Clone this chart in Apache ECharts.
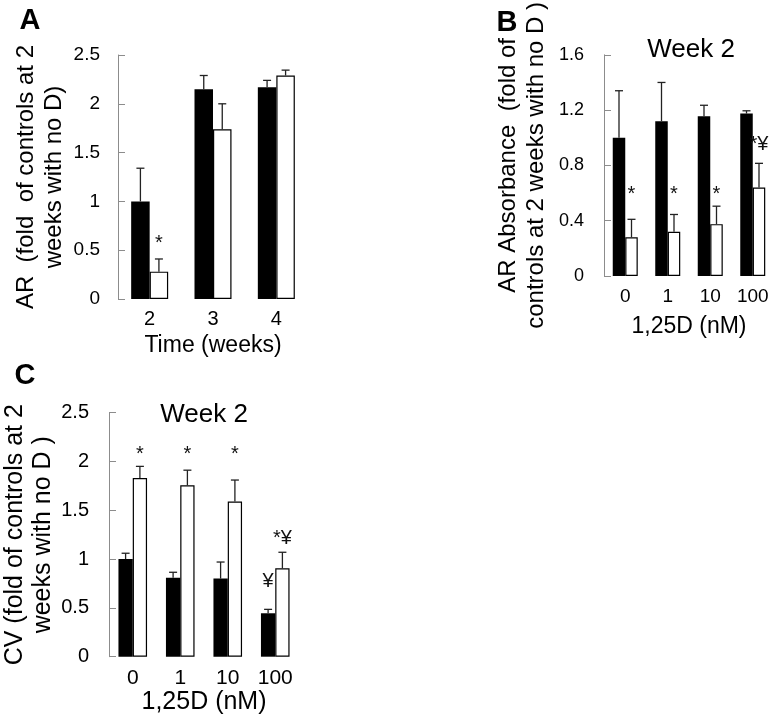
<!DOCTYPE html>
<html>
<head>
<meta charset="utf-8">
<script src="https://cdn.jsdelivr.net/npm/echarts@6/dist/echarts.min.js"></script>
<style>
html,body{margin:0;padding:0;background:#fff;}
#chart{width:777px;height:718px;}
</style>
</head>
<body>
<div id="chart"></div>
<script>
// ---------- DATA ----------
// Panel A
const catsA = ['2', '3', '4'];
const blackA = [1.00, 2.15, 2.17];
const blackErrA = [0.34, 0.14, 0.07];
const whiteA = [0.28, 1.74, 2.29];
const whiteErrA = [0.13, 0.26, 0.055];
// annotations: [category index, bar (0 black / 1 white), value, text]
const annoA = [[0, 1, 0.57, '*']];

// Panel B
const catsB = ['0', '1', '10', '100'];
const blackB = [1.00, 1.12, 1.155, 1.175];
const blackErrB = [0.34, 0.28, 0.08, 0.02];
const whiteB = [0.28, 0.32, 0.375, 0.64];
const whiteErrB = [0.13, 0.125, 0.13, 0.175];
const annoB = [[0, 1, 0.59, '*'], [1, 1, 0.59, '*'], [2, 1, 0.59, '*'], [3, 1, 0.95, '*¥']];

// Panel C
const catsC = ['0', '1', '10', '100'];
const blackC = [1.00, 0.81, 0.80, 0.445];
const blackErrC = [0.06, 0.055, 0.17, 0.04];
const whiteC = [1.83, 1.756, 1.59, 0.905];
const whiteErrC = [0.12, 0.155, 0.22, 0.165];
const annoC = [[0, 1, 2.07, '*'], [1, 1, 2.07, '*'], [2, 1, 2.07, '*'], [3, 1, 1.21, '*¥'], [3, 0, 0.77, '¥']];

// ---------- LAYOUT / STYLE ----------
const FONT = '"Liberation Sans", Arial, sans-serif';
const panels = [
  {cats: catsA, black: blackA, bErr: blackErrA, white: whiteA, wErr: whiteErrA, anno: annoA,
   grid: {left: 118, top: 55, width: 190, height: 244}, max: 2.5, interval: 0.5, barW: 18.5,
   yName: 'AR  (fold  of controls at 2\nweeks with no D)', xName: 'Time (weeks)',
   xNameGap: 35, yNameGap: 50, xLabelMargin: 10, tickFont: 19, xLabFont: 20, xNameFont: 23, yNameFont: 24, yLabMargin: 18},
  {cats: catsB, black: blackB, bErr: blackErrB, white: whiteB, wErr: whiteErrB, anno: annoB,
   grid: {left: 604, top: 42, width: 170, height: 234}, max: 1.6, interval: 0.4, barW: 12.5,
   yName: 'AR Absorbance  (fold of\ncontrols at 2 weeks with no D )', xName: '1,25D (nM)',
   xNameGap: 39, yNameGap: 54, xLabelMargin: 11, tickFont: 18, xLabFont: 19, xNameFont: 23, yNameFont: 24, yLabMargin: 20},
  {cats: catsC, black: blackC, bErr: blackErrC, white: whiteC, wErr: whiteErrC, anno: annoC,
   grid: {left: 106, top: 412.7, width: 193, height: 244}, max: 2.5, interval: 0.5, barW: 14.3,
   yName: 'CV (fold of controls at 2\nweeks with no D )', xName: '1,25D (nM)',
   xNameGap: 33, yNameGap: 52, xLabelMargin: 11, tickFont: 20, xLabFont: 21, xNameFont: 25, yNameFont: 25, yLabMargin: 20}
];

const grids = [], xAxes = [], yAxes = [], series = [];
panels.forEach((p, i) => {
  grids.push(Object.assign({containLabel: false}, p.grid));
  xAxes.push({
    gridIndex: i, type: 'category', data: p.cats,
    axisLine: {show: false}, axisTick: {show: false},
    axisLabel: {fontSize: p.xLabFont, color: '#000', fontFamily: FONT, margin: p.xLabelMargin},
    name: p.xName, nameLocation: 'middle', nameGap: p.xNameGap,
    nameTextStyle: {fontSize: p.xNameFont, color: '#000', fontFamily: FONT}
  });
  yAxes.push({
    gridIndex: i, type: 'value', min: 0, max: p.max, interval: p.interval,
    axisLine: {show: true, lineStyle: {color: '#8c8c8c', width: 1}},
    axisTick: {show: true, inside: true, length: 7, lineStyle: {color: '#8c8c8c', width: 1}},
    splitLine: {show: false},
    axisLabel: {fontSize: p.tickFont, color: '#000', fontFamily: FONT, margin: p.yLabMargin},
    name: p.yName, nameLocation: 'middle', nameGap: p.yNameGap,
    nameTextStyle: {fontSize: p.yNameFont, lineHeight: 28, color: '#000', fontFamily: FONT, align: 'center'}
  });
  series.push({
    type: 'bar', xAxisIndex: i, yAxisIndex: i, data: p.black, barWidth: p.barW, barGap: '0%',
    itemStyle: {color: '#000'}, silent: true
  });
  series.push({
    type: 'bar', xAxisIndex: i, yAxisIndex: i, data: p.white, barWidth: p.barW, barGap: '0%',
    itemStyle: {color: '#fff', borderColor: '#000', borderWidth: 1.2}, silent: true
  });
  const errData = [];
  p.black.forEach((v, k) => errData.push([k, v, p.bErr[k], 0]));
  p.white.forEach((v, k) => errData.push([k, v, p.wErr[k], 1]));
  series.push({
    type: 'custom', xAxisIndex: i, yAxisIndex: i, data: errData, silent: true, clip: false,
    encode: {x: 0, y: 1}, z: 3,
    renderItem: function (params, api) {
      const k = api.value(0), v = api.value(1), e = api.value(2), side = api.value(3);
      const base = api.coord([k, v]);
      const top = api.coord([k, v + e]);
      const x = base[0] + (side === 0 ? -p.barW / 2 : p.barW / 2);
      const cap = 4;
      const st = {stroke: '#222', lineWidth: 1.3};
      return {type: 'group', children: [
        {type: 'line', shape: {x1: x, y1: base[1], x2: x, y2: top[1]}, style: st},
        {type: 'line', shape: {x1: x - cap, y1: top[1], x2: x + cap, y2: top[1]}, style: st}
      ]};
    }
  });
  series.push({
    type: 'custom', xAxisIndex: i, yAxisIndex: i, data: p.anno.map(a => [a[0], a[2], a[1]]),
    silent: true, clip: false, encode: {x: 0, y: 1}, z: 4,
    renderItem: function (params, api) {
      const a = p.anno[params.dataIndex];
      const c = api.coord([a[0], a[2]]);
      const x = c[0] + (a[1] === 0 ? -p.barW / 2 : p.barW / 2);
      return {type: 'text', x: x, y: c[1], style: {
        text: a[3], fill: '#111', font: '20px ' + FONT,
        align: 'center', verticalAlign: 'middle', textAlign: 'center', textVerticalAlign: 'middle'
      }};
    }
  });
});

function txt(x, y, s, size, bold) {
  return {type: 'text', x: x, y: y, silent: true, style: {
    text: s, fill: '#000', font: (bold ? 'bold ' : '') + size + 'px ' + FONT,
    align: 'center', verticalAlign: 'middle', textAlign: 'center', textVerticalAlign: 'middle'
  }};
}

const chart = echarts.init(document.getElementById('chart'), null, {renderer: 'canvas'});
chart.setOption({
  animation: false,
  backgroundColor: '#fff',
  grid: grids, xAxis: xAxes, yAxis: yAxes, series: series,
  graphic: [
    txt(30, 21, 'A', 29, true),
    txt(507, 23, 'B', 29, true),
    txt(25, 376, 'C', 29, true),
    txt(691, 50, 'Week 2', 26, false),
    txt(204, 415, 'Week 2', 26, false)
  ]
});
</script>
</body>
</html>
